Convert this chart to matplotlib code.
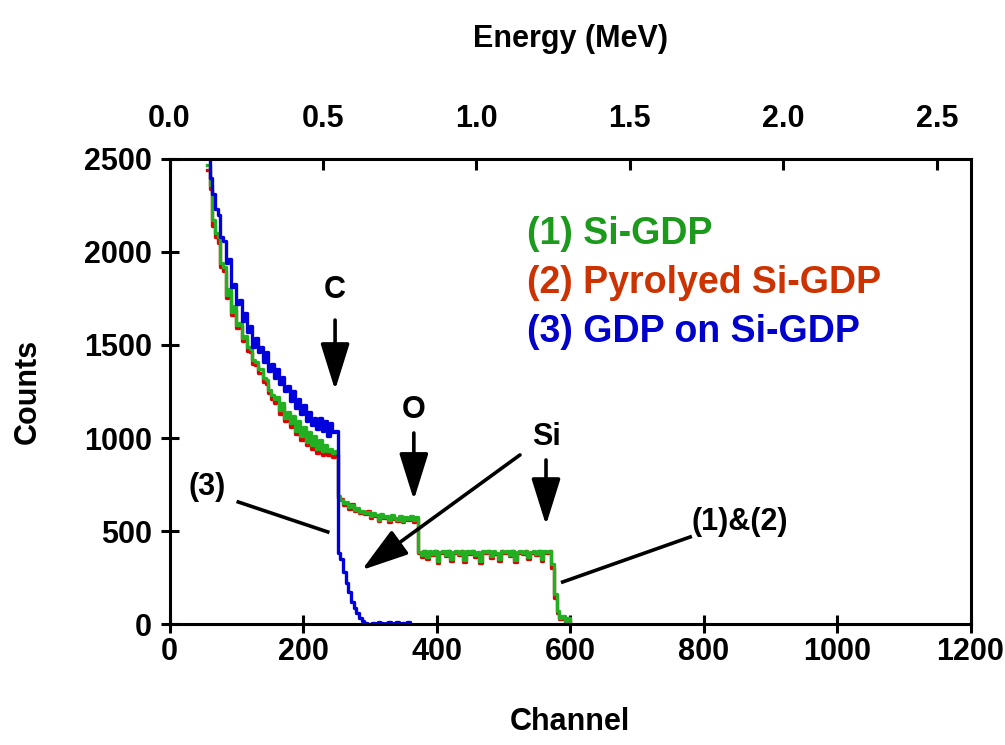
import numpy as np
import matplotlib
matplotlib.use("Agg")
import matplotlib.pyplot as plt

plt.rcParams['font.family'] = ['Liberation Sans', 'DejaVu Sans']
plt.rcParams['font.weight'] = 'bold'

# channels (step of 4)
ch_si = np.arange(56, 601, 4)
ch_gdp = np.arange(56, 361, 4)

# (1) Si-GDP
counts_1 = ([2470, 2360, 2170, 2100, 2080, 1940, 1920, 1770, 1800, 1680, 1710, 1610, 1620, 1540, 1550,
             1490, 1480, 1420, 1410, 1370, 1370, 1320, 1310, 1260, 1230, 1210, 1220, 1150, 1190, 1110,
             1140, 1080, 1120, 1040, 1090, 1010, 1060, 980, 1030, 960, 1010, 940, 990, 930, 960,
             930, 940, 920, 930]
            + [690, 665, 650, 655, 630, 640, 615, 625, 600, 610, 595, 600, 580, 595, 585,
               560, 590, 575, 580, 560, 585, 570, 560, 580, 555, 575, 565, 580, 560, 575]
            + [385, 370, 395, 360, 390, 375, 395, 340, 385, 390, 370, 395, 350, 385, 390,
               375, 395, 345, 390, 380, 395, 370, 385, 340, 390, 385, 395, 365, 390, 380,
               350, 395, 385, 390, 370, 395, 345, 385, 390, 380, 395, 360, 385, 390, 375,
               395, 350, 390, 385, 395]
            + [320, 160, 70, 30, 45, 15, 30, 0])

# (2) Pyrolyed Si-GDP
counts_2 = ([2440, 2340, 2140, 2080, 2050, 1920, 1900, 1750, 1780, 1660, 1690, 1590, 1600, 1520, 1530,
             1470, 1460, 1400, 1390, 1350, 1350, 1300, 1290, 1240, 1210, 1190, 1200, 1130, 1170, 1090,
             1120, 1060, 1100, 1020, 1070, 990, 1040, 960, 1010, 940, 990, 920, 970, 910, 940,
             910, 920, 900, 910]
            + [680, 670, 640, 650, 620, 645, 605, 620, 595, 600, 590, 605, 570, 590, 580,
               555, 585, 570, 575, 550, 580, 565, 555, 575, 550, 570, 560, 575, 550, 570]
            + [380, 360, 390, 350, 385, 370, 390, 330, 380, 385, 365, 390, 340, 380, 385,
               370, 390, 335, 385, 375, 390, 360, 380, 330, 385, 380, 390, 355, 385, 375,
               340, 390, 380, 385, 365, 390, 335, 380, 385, 375, 390, 350, 380, 385, 370,
               390, 340, 385, 380, 390]
            + [300, 140, 60, 25, 35, 10, 20, 0])

# (3) GDP on Si-GDP
counts_3 = ([2510, 2400, 2310, 2230, 2200, 2080, 2060, 1940, 1960, 1810, 1830, 1720, 1740, 1630, 1670,
             1570, 1600, 1490, 1540, 1460, 1490, 1410, 1460, 1360, 1400, 1320, 1370, 1290, 1330, 1250,
             1280, 1200, 1250, 1160, 1210, 1130, 1180, 1090, 1140, 1070, 1110, 1050, 1110, 1040, 1090,
             1010, 1080, 1030, 1040]
            + [380, 350, 280, 220, 170, 120, 85, 60, 35, 15, 5, 0, 0]
            + [8, 0, 10, 5, 0, 8, 10, 0, 5, 10, 0, 8, 5, 10, 0])

legend_labels = ['(1) Si-GDP', '(2) Pyrolyed Si-GDP', '(3) GDP on Si-GDP']
legend_colors = ['#1c9a1c', '#cc3300', '#0000cc']

fig = plt.figure(figsize=(10.05, 7.45), dpi=100)
ax = fig.add_axes([0.1687, 0.1624, 0.797, 0.6242])

ax.step(ch_si, counts_2, where='post', color='#e00000', lw=2.4)
ax.step(ch_si, counts_1, where='post', color='#22b022', lw=2.4)
ax.step(ch_gdp, counts_3, where='post', color='#0000dd', lw=2.4)

ax.set_xlim(0, 1200)
ax.set_ylim(0, 2500)
ax.set_xticks(np.arange(0, 1201, 200))
ax.set_yticks(np.arange(0, 2501, 500))
for s in ax.spines.values():
    s.set_linewidth(2.2)
ax.tick_params(axis='both', direction='inout', length=13, width=2.2, labelsize=22)
ax.tick_params(axis='y', pad=6)
ax.tick_params(axis='x', pad=3)
ax.set_xlabel('Channel', fontsize=22, fontweight='bold', labelpad=29)
ax.set_ylabel('Counts', fontsize=22, fontweight='bold', labelpad=30)

# energy scale on top
ax2 = ax.twiny()
ax2.set_xlim(0, 2.61)
ax2.set_xticks(np.arange(0, 2.51, 0.5))
ax2.set_xticklabels(['%.1f' % v for v in np.arange(0, 2.51, 0.5)])
ax2.tick_params(axis='x', direction='in', length=8, width=2.2, labelsize=22, pad=18)
ax2.set_xlabel('Energy (MeV)', fontsize=22, fontweight='bold', labelpad=41)

# legend as coloured text
for i, (lab, col) in enumerate(zip(legend_labels, legend_colors)):
    ax.text(535, 2095 - i * 262, lab, color=col, fontsize=27, fontweight='bold',
            va='center', ha='left')

arrow = dict(arrowstyle='-|>,head_length=1.6,head_width=0.5', lw=2.6, color='k',
             mutation_scale=18, shrinkA=0, shrinkB=0)

ax.text(248, 1796, 'C', fontsize=22, fontweight='bold', ha='center', va='center')
ax.annotate('', xy=(248, 1258), xytext=(248, 1634), arrowprops=arrow)
ax.text(366, 1150, 'O', fontsize=22, fontweight='bold', ha='center', va='center')
ax.annotate('', xy=(366, 667), xytext=(366, 1027), arrowprops=arrow)
ax.text(564, 1005, 'Si', fontsize=22, fontweight='bold', ha='center', va='center')
ax.annotate('', xy=(564, 532), xytext=(564, 882), arrowprops=arrow)
ax.annotate('', xy=(288, 290), xytext=(525, 909), arrowprops=arrow)

ax.text(56, 735, '(3)', fontsize=22, fontweight='bold', ha='center', va='center')
ax.plot([103, 237], [656, 495], color='k', lw=2.6)
ax.text(855, 548, '(1)&(2)', fontsize=22, fontweight='bold', ha='center', va='center')
ax.plot([589, 780], [226, 468], color='k', lw=2.6)

fig.savefig('out.png', dpi=100)
